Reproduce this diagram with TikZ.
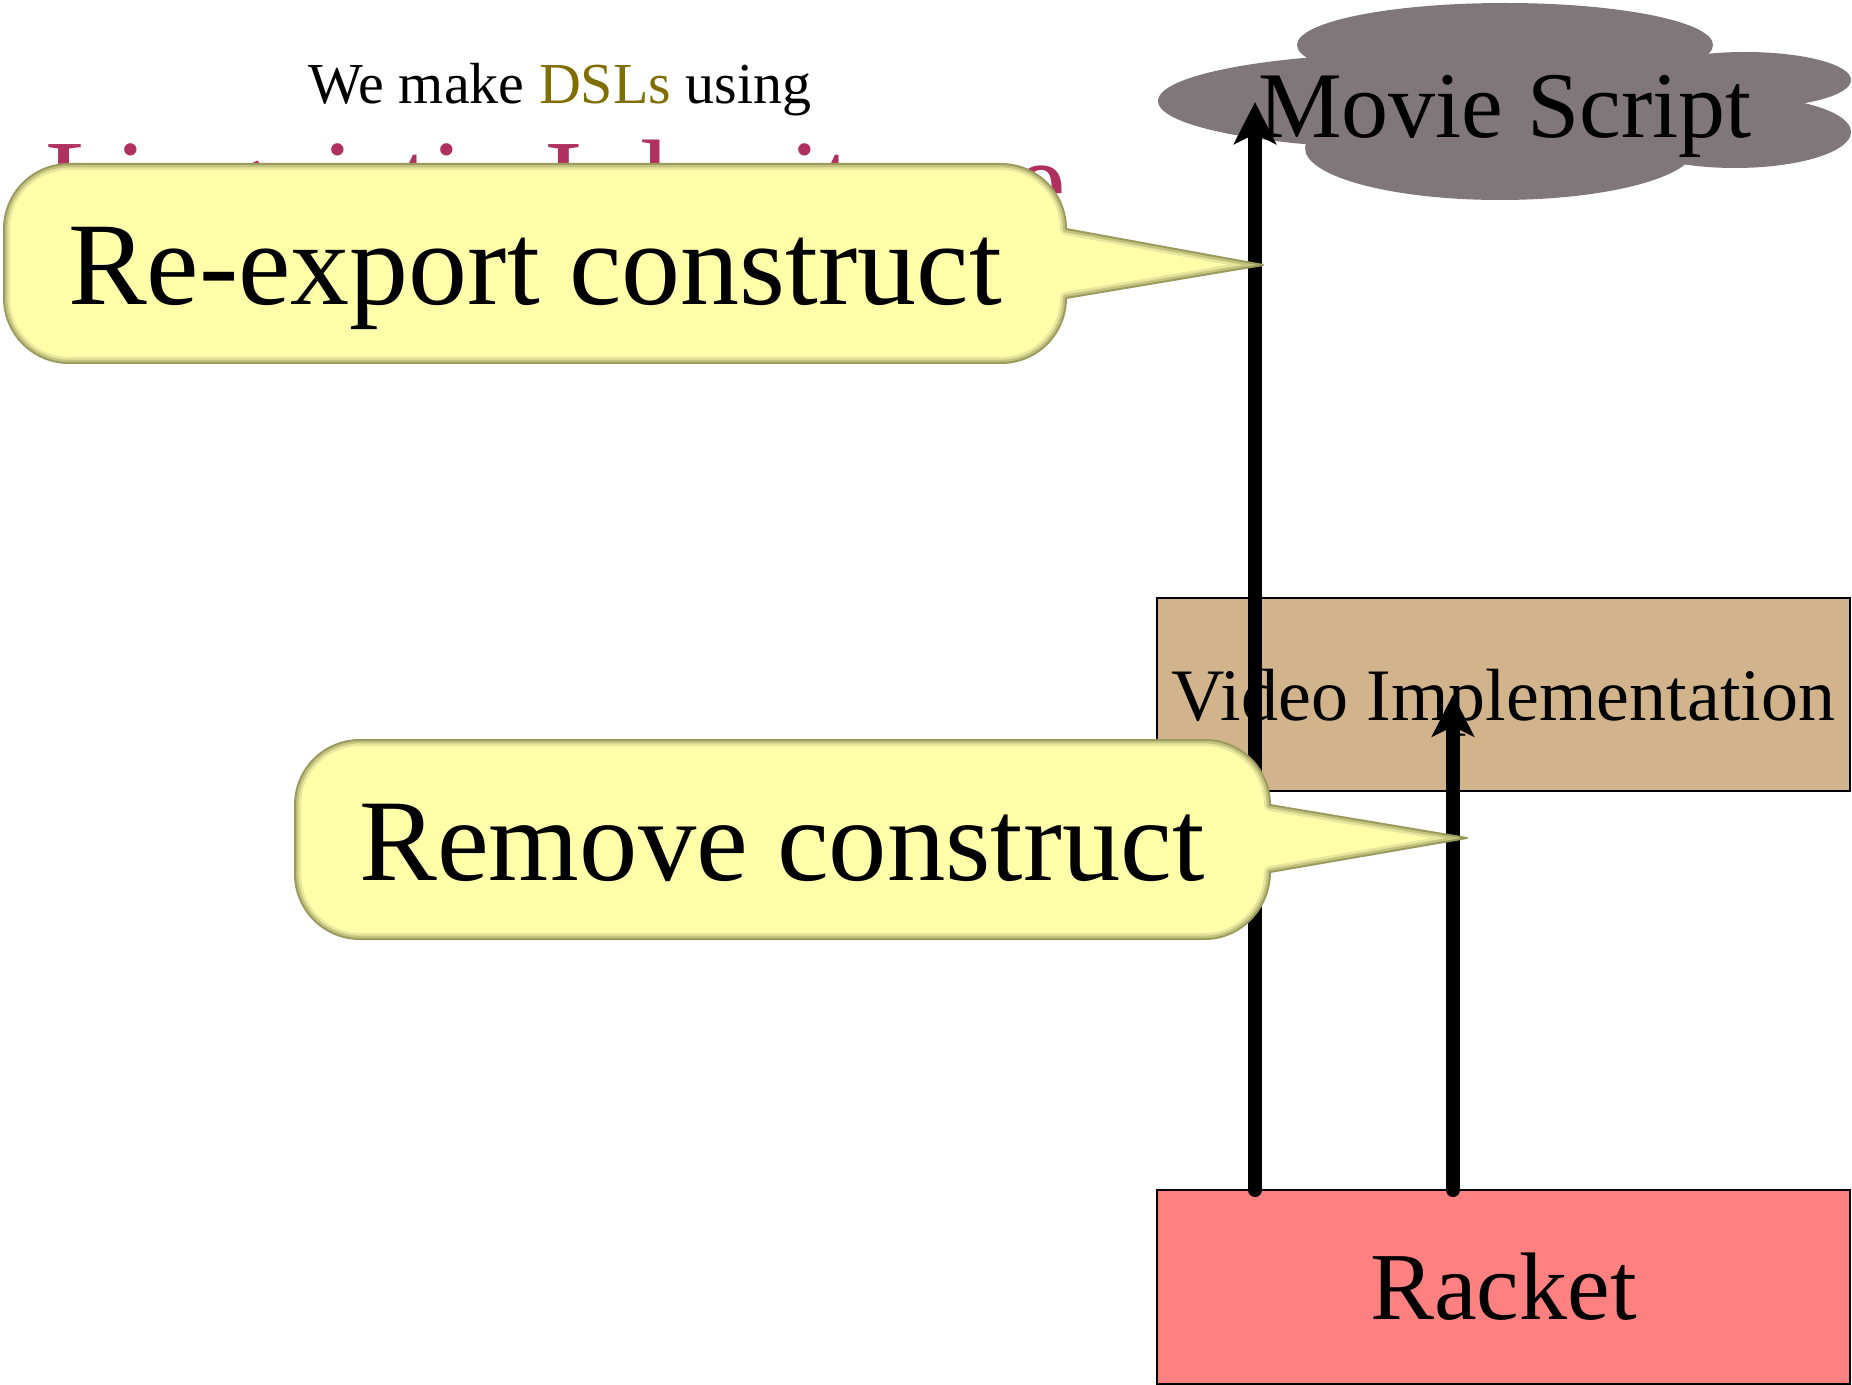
\documentclass[tikz,border=0pt]{standalone}
\usepackage{fontspec}
\setmainfont{Liberation Serif}
\usetikzlibrary{arrows.meta}

\definecolor{cloudgray}{RGB}{127,119,121}
\definecolor{implTan}{RGB}{210,180,140}
\definecolor{racketRed}{RGB}{255,128,128}
\definecolor{bubbleFill}{RGB}{255,255,170}
\definecolor{bubbleEdge}{RGB}{155,155,96}
\definecolor{bubbleMid}{RGB}{196,196,126}
\definecolor{bubbleSoft}{RGB}{230,230,156}
\definecolor{dslOlive}{RGB}{128,110,0}
\definecolor{titleRose}{RGB}{176,48,96}

\newcommand\fsz[1]{\fontsize{#1pt}{#1pt}\selectfont}

\tikzset{
  layerbox/.style={draw=black, line width=1pt, inner sep=0pt, outer sep=0pt,
    minimum width=346.5pt},
  plaintext/.style={inner sep=0pt, outer sep=0pt},
  lift/.style={line width=7pt, line cap=round,
    -{Stealth[length=21pt, width=21pt, inset=5pt]}},
}

\begin{document}
\begin{tikzpicture}[x=0.5pt, y=-0.5pt]
\useasboundingbox (0,0) rectangle (1852,1385);

% heading lines
\node[plaintext, anchor=base, font=\fsz{29}] (intro) at (560,104)
  {We make \textcolor{dslOlive}{DSLs} using};
\node[plaintext, anchor=base west, font=\fsz{58}, text=titleRose] (heading)
  at (45,221) {Linguistic Inheritance};

% the script cloud, built from overlapping ellipses
\begin{scope}[fill=cloudgray]
  \fill (1505,45)  ellipse [x radius=104pt,  y radius=21pt];
  \fill (1420,101) ellipse [x radius=131pt,  y radius=24pt];
  \fill (1500,148) ellipse [x radius=97.5pt, y radius=26pt];
  \fill (1745,80)  ellipse [x radius=53pt,   y radius=14pt];
  \fill (1735,132) ellipse [x radius=58pt,   y radius=18pt];
\end{scope}
\coordinate (script) at (1505,102);
\node[plaintext, anchor=base, font=\fsz{47}] (scriptlabel) at (1505,138)
  {Movie Script};

% language layers
\node[layerbox, fill=implTan, minimum height=96.5pt, text depth=0pt,
  font=\fsz{37}] (video) at (1503.5,694.5) {Video Implementation};
\node[layerbox, fill=racketRed, minimum height=97pt,
  font=\fsz{48}] (racket) at (1503.5,1287) {Racket};

% lanes of the two arrows
\coordinate (laneA) at (1255,0);
\coordinate (laneB) at (1453,0);
\draw[lift] (racket.north -| laneA) -- (script -| laneA);
\draw[lift] (racket.north -| laneB) -- (video.center -| laneB);

% speech bubbles
\path[save path=\reexportshape]
  (69,164) -- (1001,164) .. controls (1037,164) and (1066,193) .. (1066,229)
  -- (1263,265) -- (1066,298)
  .. controls (1066,334) and (1037,363) .. (1001,363) -- (69,363)
  .. controls (33,363) and (4,334) .. (4,298) -- (4,229)
  .. controls (4,193) and (33,164) .. (69,164) -- cycle;
\path[save path=\removeshape]
  (360,740) -- (1205,740) .. controls (1241,740) and (1270,769) .. (1270,805)
  -- (1467,838) -- (1270,872)
  .. controls (1270,908) and (1241,939) .. (1205,939) -- (360,939)
  .. controls (324,939) and (295,910) .. (295,874) -- (295,805)
  .. controls (295,769) and (324,740) .. (360,740) -- cycle;

\foreach \shape in {\reexportshape,\removeshape}{
  \fill[bubbleFill, use path=\shape];
  \begin{scope}
    \clip[use path=\shape];
    \draw[bubbleSoft, line width=6pt, line join=round, use path=\shape];
    \draw[bubbleMid, line width=3.4pt, line join=round, use path=\shape];
  \end{scope}
  \draw[bubbleEdge, line width=1pt, line join=round, use path=\shape];
}

\node[plaintext, anchor=base, font=\fsz{59}] (reexport) at (535,305)
  {Re-export construct};
\node[plaintext, anchor=base, font=\fsz{58.3}] (remove) at (782,880)
  {Remove construct};
\end{tikzpicture}
\end{document}
